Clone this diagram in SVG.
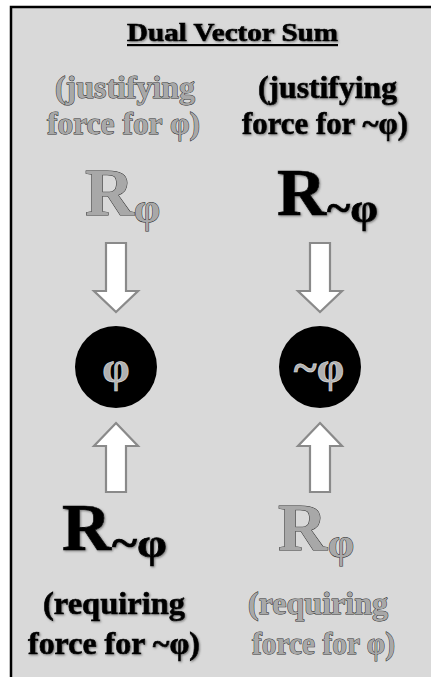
<svg xmlns="http://www.w3.org/2000/svg" width="431" height="677" viewBox="0 0 431 677">
<defs>
<filter id="sh" x="-10%" y="-10%" width="130%" height="130%"><feDropShadow dx="1" dy="1" stdDeviation="0.8" flood-color="#555" flood-opacity="0.7"/></filter>
</defs>
<style>
.bg{fill:#d9d9d9;stroke:#000;stroke-width:2.5}
.t{font-family:"Liberation Serif","Times New Roman",serif;font-weight:bold}
.blk{fill:#000;stroke:#000;stroke-width:0.7;filter:url(#sh)}
.gry{fill:#a8a8a8;stroke:#303030;stroke-width:1;paint-order:stroke}
.lbl{font-size:32px}
.big{font-size:68px}
.arr{fill:#fff;stroke:#8a8a8a;stroke-width:2.2;stroke-linejoin:miter}
.circ{fill:#000}
.ctext{fill:#b0b0b0;stroke:#e0e0e0;stroke-width:0.6;font-size:44px}
</style>
<rect class="bg" x="11" y="7" width="440" height="700"/>
<g id="title">
<text class="t blk" x="127" y="41" font-size="25" textLength="211" lengthAdjust="spacingAndGlyphs">Dual Vector Sum</text>
<rect x="127" y="44" width="211" height="2.2" fill="#000"/>
</g>
<g id="just-phi">
<text class="t gry lbl" x="55" y="98" textLength="140" lengthAdjust="spacingAndGlyphs">(justifying</text>
<text class="t gry lbl" x="47" y="134" textLength="153" lengthAdjust="spacingAndGlyphs">force for φ)</text>
</g>
<g id="just-notphi">
<text class="t blk lbl" x="258" y="98" textLength="139" lengthAdjust="spacingAndGlyphs">(justifying</text>
<text class="t blk lbl" x="242" y="134" textLength="166" lengthAdjust="spacingAndGlyphs">force for ~φ)</text>
</g>
<g id="R-phi-top">
<text class="t gry big" x="85" y="215">R<tspan x="134" y="222" font-size="42">φ</tspan></text>
</g>
<g id="R-notphi-top">
<text class="t blk big" x="277" y="215">R<tspan x="327" y="222" font-size="42" textLength="51" lengthAdjust="spacingAndGlyphs">~φ</tspan></text>
</g>
<g id="node-phi">
<circle class="circ" cx="116" cy="367" r="41"/>
<text class="t ctext" x="116" y="382" text-anchor="middle">φ</text>
</g>
<g id="node-notphi">
<circle class="circ" cx="320" cy="367" r="41"/>
<text class="t ctext" x="319" y="382" text-anchor="middle">~φ</text>
</g>
<g id="R-notphi-bottom">
<text class="t blk big" x="62" y="550">R<tspan x="112" y="557" font-size="42" textLength="55" lengthAdjust="spacingAndGlyphs">~φ</tspan></text>
</g>
<g id="R-phi-bottom">
<text class="t gry big" x="278" y="550">R<tspan x="328" y="557" font-size="42">φ</tspan></text>
</g>
<g id="req-notphi">
<text class="t blk lbl" x="43" y="614" textLength="142" lengthAdjust="spacingAndGlyphs">(requiring</text>
<text class="t blk lbl" x="28" y="654" textLength="172" lengthAdjust="spacingAndGlyphs">force for ~φ)</text>
</g>
<g id="req-phi">
<text class="t gry lbl" x="248" y="614" textLength="140" lengthAdjust="spacingAndGlyphs">(requiring</text>
<text class="t gry lbl" x="252" y="654" textLength="143" lengthAdjust="spacingAndGlyphs">force for φ)</text>
</g>
<g id="connectors">
<polygon class="arr" points="106,243 126,243 126,291 138,291 116,312 94,291 106,291"/>
<polygon class="arr" points="310,243 330,243 330,291 342,291 320,312 298,291 310,291"/>
<polygon class="arr" points="116,423 138,446 126,446 126,492 106,492 106,446 94,446"/>
<polygon class="arr" points="320,423 342,446 330,446 330,492 310,492 310,446 298,446"/>
</g>
</svg>
